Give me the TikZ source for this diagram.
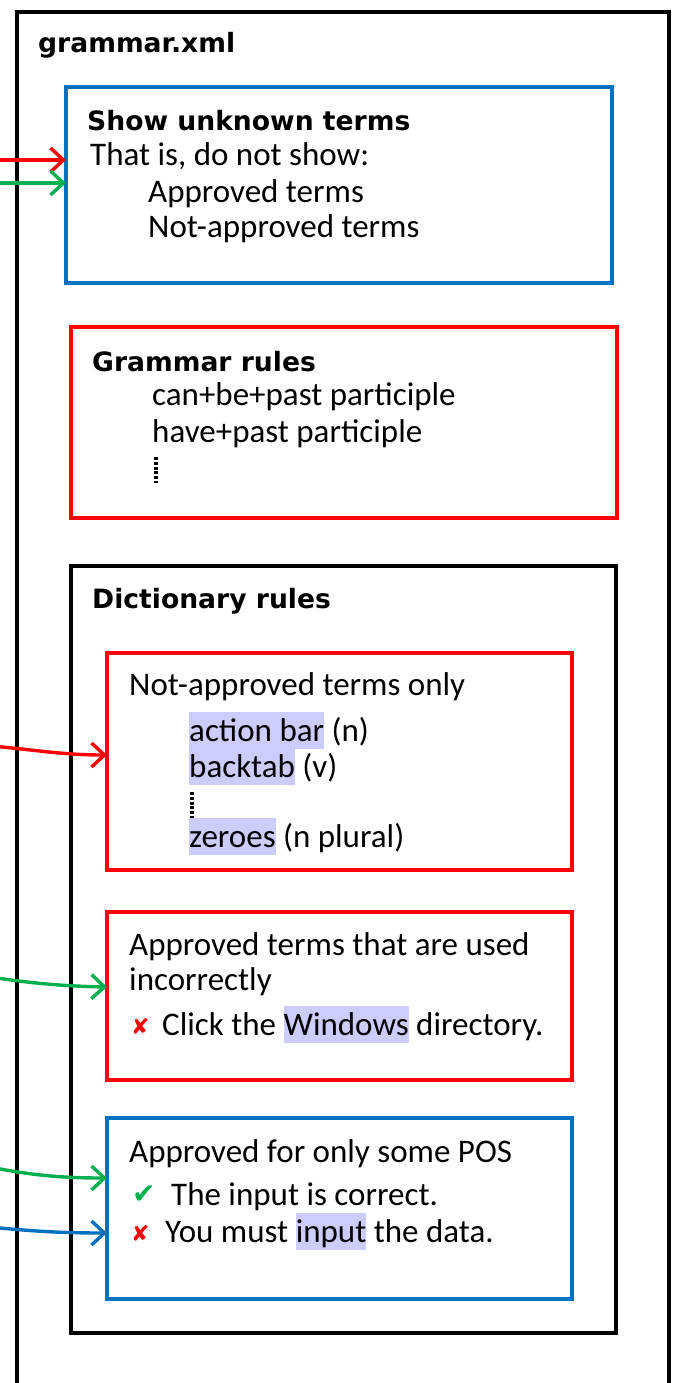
\documentclass[tikz,border=0pt]{standalone}
\usepackage{fontspec}
\setmainfont{Carlito}
\newfontfamily\headfont{DejaVu Sans}
\newfontfamily\symfont{DejaVu Sans}
\usetikzlibrary{arrows.meta}

\definecolor{boxblue}{HTML}{0070C0}
\definecolor{boxred}{HTML}{FF0000}
\definecolor{okgreen}{HTML}{00B050}
\definecolor{hlcolor}{HTML}{CCCCFF}

% lavender term highlight
\newcommand{\hlword}[1]{{\setlength{\fboxsep}{0pt}\colorbox{hlcolor}{\rule[-8pt]{0pt}{37pt}#1}}}

\tikzset{
  frame/.style={draw, line width=3.6pt, inner sep=0pt, outer sep=0pt, anchor=north west},
  head/.style={font=\headfont\bfseries\fontsize{26.6}{30}\selectfont, anchor=base west, inner sep=0pt},
  body/.style={font=\fontsize{33}{35}\selectfont, anchor=base west, inner sep=0pt},
  symb/.style={font=\symfont\fontsize{22}{24}\selectfont, anchor=base west, inner sep=0pt},
  conn/.style={line width=3.4pt, -{Straight Barb[length=13pt,width=24pt]}},
  ellip/.style={line width=3.8pt, dash pattern=on 3pt off 1.8pt}
}

\begin{document}
\begin{tikzpicture}[x=1pt,y=-1pt]
\useasboundingbox (0,0) rectangle (672,1383);
\fill[white] (0,0) rectangle (672,1383);

% file container
\node[frame, minimum width=652pt, minimum height=1420pt] (file) at (17,12) {};
\node[head] (title) at (38,53) {grammar.xml};

% unknown terms
\node[frame, draw=boxblue, minimum width=546pt, minimum height=196pt] (unknown) at (66,87) {};
\node[head] (unkhead) at (87,131) {Show unknown terms};
\node[body] (unk1) at (90,166) {That is, do not show:};
\node[body] (unk2) at (148,203) {Approved terms};
\node[body] (unk3) at (148,237) {Not-approved terms};

% grammar rules
\node[frame, draw=boxred, minimum width=546pt, minimum height=191pt] (grammar) at (71,327) {};
\node[head] (grhead) at (92,371) {Grammar rules};
\node[body] (gr1) at (152,405) {can+be+past participle};
\node[body] (gr2) at (152,442) {have+past participle};
\coordinate (grdotA) at (156,457);
\coordinate (grdotB) at (156,483);
\draw[ellip] (grdotA) -- (grdotB);

% dictionary rules
\node[frame, minimum width=545pt, minimum height=767pt] (dict) at (71,566) {};
\node[head] (dicthead) at (92,608) {Dictionary rules};

% not-approved terms
\node[frame, draw=boxred, minimum width=465pt, minimum height=217pt] (notappr) at (107,653) {};
\node[body] (na0) at (129,695) {Not-approved terms only};
\node[body] (na1) at (189,741) {\hlword{action bar} (n)};
\node[body] (na2) at (189,777) {\hlword{backtab} (v)};
\coordinate (nadotA) at (192,792);
\coordinate (nadotB) at (192,818);
\draw[ellip] (nadotA) -- (nadotB);
\node[body] (na3) at (189,847) {\hlword{zeroes} (n plural)};

% approved terms used incorrectly
\node[frame, draw=boxred, minimum width=465pt, minimum height=168pt] (misuse) at (107,912) {};
\node[body] (mu1) at (129,955) {Approved terms that are used};
\node[body] (mu2) at (129,990) {incorrectly};
\node[symb, text=boxred] (mux) at (131,1034) {✘};
\node[body] (mu3) at (162,1035) {Click the \hlword{Windows} directory.};

% approved for some parts of speech
\node[frame, draw=boxblue, minimum width=465pt, minimum height=181pt] (pos) at (107,1118) {};
\node[body] (pos1) at (129,1162) {Approved for only some POS};
\node[symb, text=okgreen, font=\symfont\fontsize{28}{30}\selectfont] (posok) at (132,1203) {✔};
\node[body] (pos2) at (171,1205) {The input is correct.};
\node[symb, text=boxred] (posx) at (131,1241) {✘};
\node[body] (pos3) at (165,1242) {You must \hlword{input} the data.};

% incoming connectors
\coordinate (inA) at (-10,160);
\coordinate (inB) at (-10,183);
\coordinate (inC) at (-10,746);
\coordinate (inD) at (-10,977);
\coordinate (inE) at (-10,1167);
\coordinate (inF) at (-10,1227);
\draw[conn, boxred] (inA) -- (unknown.west |- inA);
\draw[conn, okgreen] (inB) -- (unknown.west |- inB);
\draw[conn, boxred] (inC) .. controls (30,749) and (60,755) .. ([yshift=6.5pt]notappr.west);
\draw[conn, okgreen] (inD) .. controls (30,983) and (60,986) .. ([yshift=9pt]misuse.west);
\draw[conn, okgreen] (inE) .. controls (30,1175) and (60,1178) .. ([yshift=30.5pt]pos.west);
\draw[conn, boxblue] (inF) .. controls (30,1231) and (60,1233) .. ([yshift=-24.5pt]pos.west);
\end{tikzpicture}
\end{document}
